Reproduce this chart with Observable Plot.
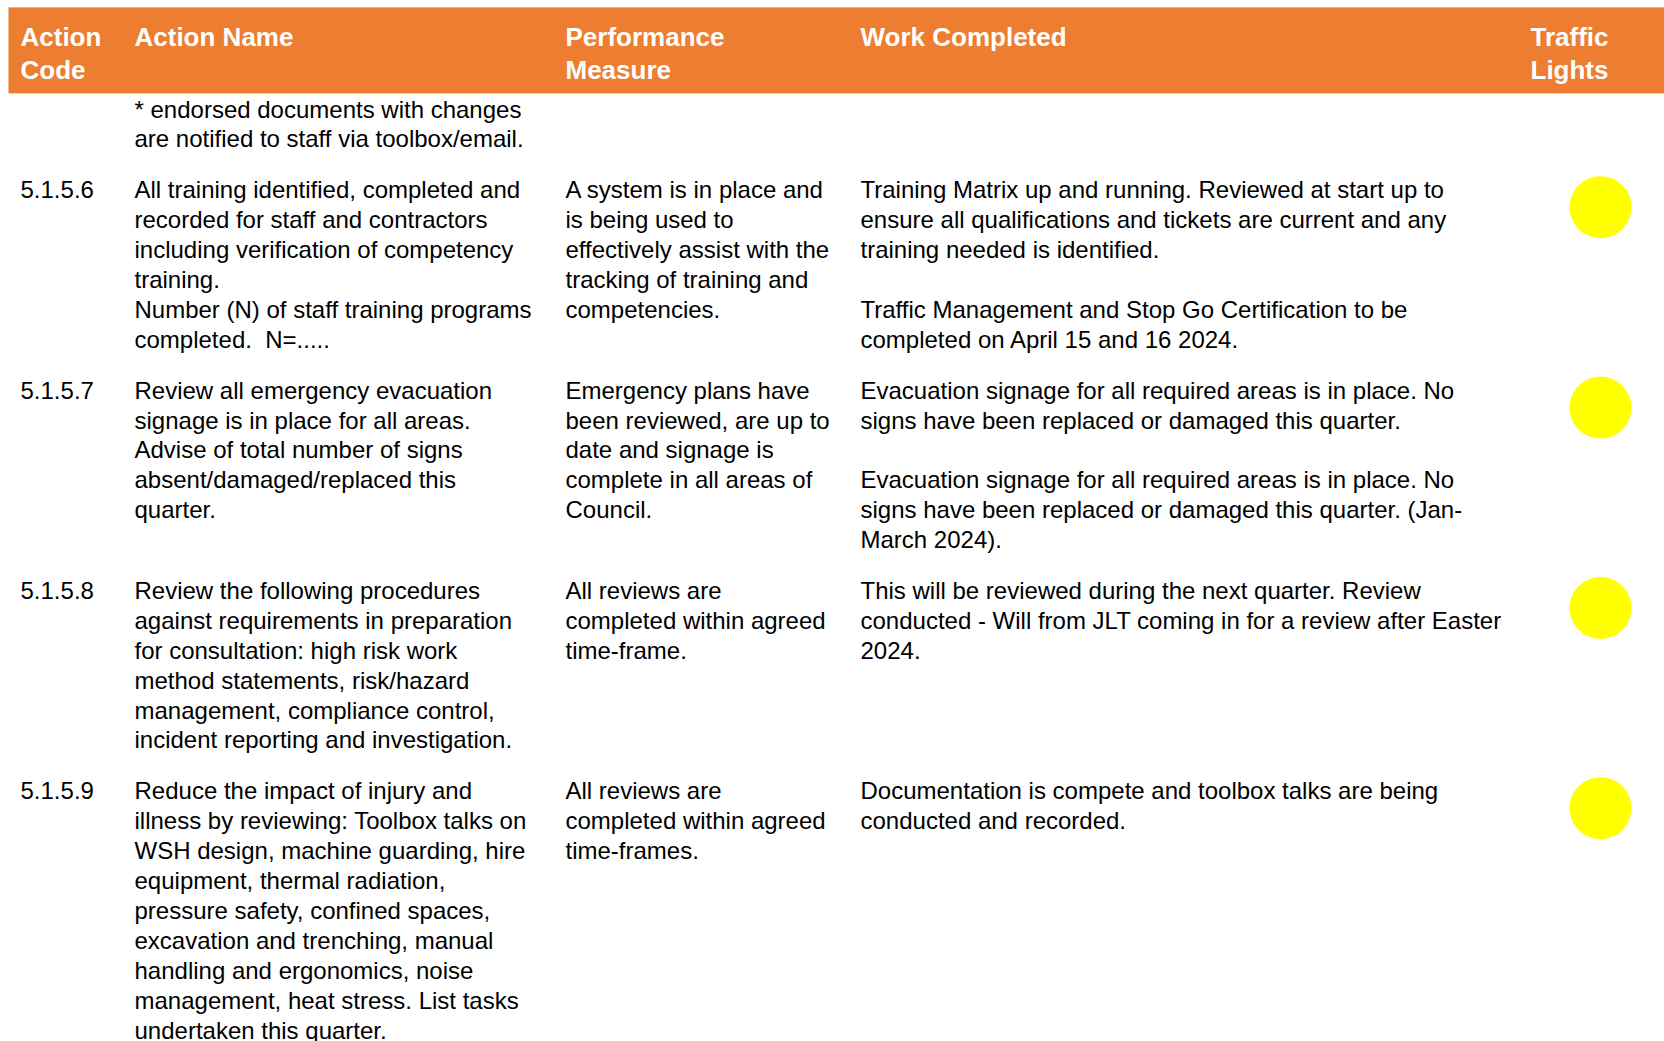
<!DOCTYPE html>
<html>
<head>
<meta charset="utf-8">
<script src="https://cdn.jsdelivr.net/npm/d3@7"></script>
<script src="https://cdn.jsdelivr.net/npm/@observablehq/plot@0.6"></script>
<style>
  html, body { margin: 0; padding: 0; background: #ffffff; }
  #chart svg { display: block; }
</style>
</head>
<body>
<div id="chart"></div>
<script>
// ---------------- DATA ----------------
const columns = ["Action Code", "Action Name", "Performance Measure", "Work Completed", "Traffic Lights"];
const headerLabels = [["Action", "Code"], ["Action Name"], ["Performance", "Measure"], ["Work Completed"], ["Traffic", "Lights"]];

const actionCodes = ["", "5.1.5.6", "5.1.5.7", "5.1.5.8", "5.1.5.9"];

const actionNames = [
  ["* endorsed documents with changes", "are notified to staff via toolbox/email."],
  ["All training identified, completed and", "recorded for staff and contractors", "including verification of competency", "training.", "Number (N) of staff training programs", "completed.  N=....."],
  ["Review all emergency evacuation", "signage is in place for all areas.", "Advise of total number of signs", "absent/damaged/replaced this", "quarter."],
  ["Review the following procedures", "against requirements in preparation", "for consultation: high risk work", "method statements, risk/hazard", "management, compliance control,", "incident reporting and investigation."],
  ["Reduce the impact of injury and", "illness by reviewing: Toolbox talks on", "WSH design, machine guarding, hire", "equipment, thermal radiation,", "pressure safety, confined spaces,", "excavation and trenching, manual", "handling and ergonomics, noise", "management, heat stress. List tasks", "undertaken this quarter."]
];

const performanceMeasures = [
  [],
  ["A system is in place and", "is being used to", "effectively assist with the", "tracking of training and", "competencies."],
  ["Emergency plans have", "been reviewed, are up to", "date and signage is", "complete in all areas of", "Council."],
  ["All reviews are", "completed within agreed", "time-frame."],
  ["All reviews are", "completed within agreed", "time-frames."]
];

const workCompleted = [
  [],
  ["Training Matrix up and running. Reviewed at start up to", "ensure all qualifications and tickets are current and any", "training needed is identified.", "", "Traffic Management and Stop Go Certification to be", "completed on April 15 and 16 2024."],
  ["Evacuation signage for all required areas is in place. No", "signs have been replaced or damaged this quarter.", "", "Evacuation signage for all required areas is in place. No", "signs have been replaced or damaged this quarter. (Jan-", "March 2024)."],
  ["This will be reviewed during the next quarter. Review", "conducted - Will from JLT coming in for a review after Easter", "2024."],
  ["Documentation is compete and toolbox talks are being", "conducted and recorded."]
];

const trafficLights = [null, "Yellow", "Yellow", "Yellow", "Yellow"];

// ---------------- LAYOUT ----------------
const W = 1664, H = 1041;
const colX = [20, 134, 565, 860, 1530];
const lightX = 1600;
const header = {top: 7.4, bottom: 93.4, left: 8.5, firstLine: 36.3, pitch: 32.9, size: 26};
const body = {firstLine: 108.5, pitch: 29.9, rowGap: 0.7, size: 24};
const lightColors = {Yellow: "#FFFF00", Green: "#00B050", Red: "#FF0000"};

// build text lines
const headerText = [];
headerLabels.forEach((lines, c) => lines.forEach((t, i) => headerText.push({x: colX[c], y: header.firstLine + i * header.pitch + 1, text: t})));

const bodyText = [];
const lights = [];
let lineStart = 0;
actionCodes.forEach((code, r) => {
  const cols = [code ? [code] : [], actionNames[r], performanceMeasures[r], workCompleted[r]];
  const n = Math.max(...cols.map(c => c.length));
  const y0 = body.firstLine + lineStart * body.pitch;
  cols.forEach((lines, c) => lines.forEach((t, i) => {
    if (t) bodyText.push({x: colX[c], y: y0 + i * body.pitch + 0.9, text: t});
  }));
  if (trafficLights[r]) lights.push({x: lightX, y: y0 + 17.5, status: trafficLights[r]});
  lineStart += n + body.rowGap;
});

const chart = Plot.plot({
  width: W,
  height: H,
  margin: 0,
  x: {domain: [0, W], range: [0, W], axis: null},
  y: {domain: [0, H], range: [0, H], axis: null},
  style: {fontFamily: "'Liberation Sans', Arial, sans-serif", background: "#ffffff"},
  marks: [
    Plot.rect([header], {x1: d => d.left, x2: W, y1: d => d.top, y2: d => d.bottom, fill: "#ED7D31"}),
    Plot.text(headerText, {x: "x", y: "y", text: "text", textAnchor: "start", lineAnchor: "middle",
      fontSize: header.size, fontWeight: "bold", fill: "#ffffff"}),
    Plot.text(bodyText, {x: "x", y: "y", text: "text", textAnchor: "start", lineAnchor: "middle",
      fontSize: body.size, fill: "#000000"}),
    Plot.dot(lights, {x: "x", y: "y", r: 31, fill: d => lightColors[d.status], stroke: null})
  ]
});
document.getElementById("chart").appendChild(chart);
</script>
</body>
</html>
